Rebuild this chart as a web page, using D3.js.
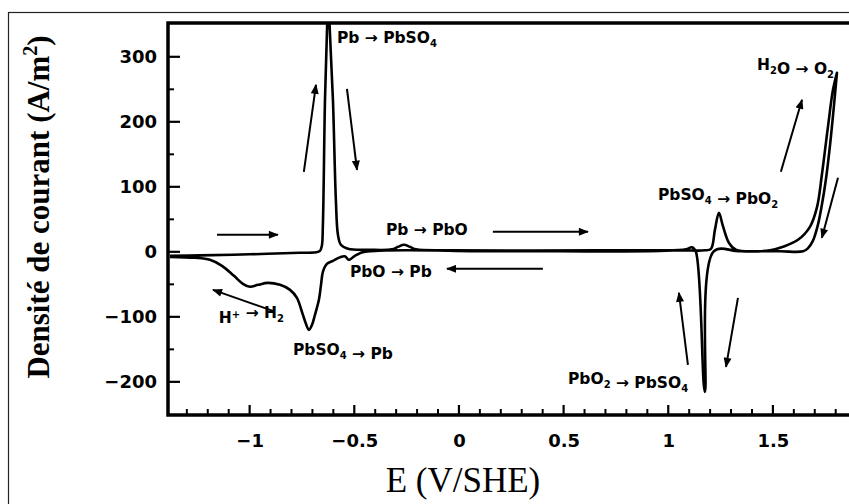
<!DOCTYPE html>
<html>
<head>
<meta charset="utf-8">
<script src="https://cdn.jsdelivr.net/npm/d3@7"></script>
<style>
  body { margin: 0; background: #fff; }
  text { fill: #000; }
</style>
</head>
<body>
<svg id="cv" width="849" height="504"></svg>
<script>
// forward (anodic) scan, E in V/SHE, j in A/m2
var fwdE = [-1.381, -1.237, -0.999, -0.760, -0.683, -0.664, -0.655, -0.650, -0.640, -0.631, -0.624,
            -0.616, -0.602, -0.588, -0.578, -0.564, -0.530, -0.425, -0.320, -0.291, -0.263, -0.234,
            -0.205, -0.043, 0.674, 1.056, 1.175, 1.204, 1.223, 1.242, 1.261, 1.290, 1.323, 1.486,
            1.548, 1.620, 1.677, 1.711, 1.734, 1.763, 1.787, 1.806];
var fwdJ = [-6.2, -5.4, -3.8, -1.5, -0.8, 1.5, 9.2, 41.5, 233.8, 333.8, 390,
            333.8, 233.8, 80, 26, 10.8, 4.6, 3.1, 3.8, 7.7, 10.8, 7.7,
            3.8, 2.3, 2.3, 2.3, 2.3, 4.6, 33.8, 60, 40, 13.8, 3.1, 2.3,
            7.7, 18.5, 38.5, 69.2, 118.5, 192.3, 249.2, 275.4];

// reverse (cathodic) scan
var revE = [1.806, 1.792, 1.773, 1.753, 1.734, 1.715, 1.691, 1.667, 1.644, 1.534, 1.343, 1.218,
            1.175, 1.132, 1.113, 1.085, 0.960, 0.196, -0.449, -0.497, -0.526, -0.545, -0.569,
            -0.602, -0.631, -0.650, -0.659, -0.669, -0.688, -0.702, -0.717, -0.731, -0.750,
            -0.774, -0.807, -0.855, -0.913, -0.960, -0.999, -1.032, -1.075, -1.132, -1.190,
            -1.261, -1.381];
var revJ = [275.4, 226.2, 164.6, 110.8, 72.3, 41.5, 16.9, 5.4, 0.8, 0.8, 0.8, 0.8,
            -215.4, 0, 6.9, 3.8, 1.5, 0.8, 0, -6.2, -12.3, -6.9, -8.5,
            -13.8, -18.5, -30.8, -50.8, -73.8, -96.9, -112.3, -120, -110.8, -92.3,
            -70.8, -58.5, -50.8, -47.7, -50.8, -53.8, -49.2, -36.9, -21.5, -12.3,
            -9.2, -7.7];

var xTicks = [-1, -0.5, 0, 0.5, 1, 1.5];
var yTicks = [-200, -100, 0, 100, 200, 300];
var xMinor = [-1.3, -1.2, -1.1, -0.9, -0.8, -0.7, -0.6, -0.4, -0.3, -0.2, -0.1,
              0.1, 0.2, 0.3, 0.4, 0.6, 0.7, 0.8, 0.9, 1.1, 1.2, 1.3, 1.4, 1.6, 1.7, 1.8];
var yMinor = [-150, -50, 50, 150, 250];

// reaction labels ("_" = subscript, "^" = superscript)
var labelText = ["Pb → PbSO_4", "H_2O → O_2", "PbSO_4 → PbO_2", "Pb → PbO",
                 "PbO → Pb", "H^+ → H_2", "PbSO_4 → Pb", "PbO_2 → PbSO_4"];
var labelE = [-0.583, 1.424, 0.951, -0.349, -0.521, -1.147, -0.793, 0.521];
var labelJ = [321.5, 280, 80, 26.2, -38.5, -109.2, -158.5, -203.1];

// scan direction arrows, tail -> head
var arrE0 = [-1.156, -0.741, -0.535, 0.162, 0.401, -0.889, 1.094, 1.333, 1.538, 1.811];
var arrJ0 = [26.2, 123, 250.8, 30.8, -26.2, -90.8, -173.8, -70.8, 123.1, 113.8];
var arrE1 = [-0.865, -0.683, -0.487, 0.616, -0.057, -1.175, 1.051, 1.276, 1.639, 1.734];
var arrJ1 = [26.2, 256.9, 126.2, 30.8, -26.2, -58.5, -63.1, -176.9, 233.8, 21.5];

var svg = d3.select("#cv");
var pLeft = 168, pTop = 23, pBottom = 415, pRight = 856;

var x = d3.scaleLinear().domain([-1.39, 1.897]).range([pLeft, pRight]);
var y = d3.scaleLinear().domain([-251, 352]).range([pBottom, pTop]);

// outer frame
svg.append("rect")
  .attr("x", 8.5).attr("y", 12.5).attr("width", 900).attr("height", 520)
  .attr("fill", "none").attr("stroke", "#222").attr("stroke-width", 1.2);

svg.append("clipPath").attr("id", "clip")
  .append("rect").attr("x", pLeft).attr("y", pTop).attr("width", pRight - pLeft).attr("height", pBottom - pTop);

var pts = fwdE.map((e, i) => [e, fwdJ[i]]).concat(revE.map((e, i) => [e, revJ[i]]));

var line = d3.line()
  .x(d => x(d[0]))
  .y(d => y(d[1]))
  .curve(d3.curveCatmullRom.alpha(0.5));

svg.append("path")
  .datum(pts)
  .attr("clip-path", "url(#clip)")
  .attr("fill", "none")
  .attr("stroke", "#000")
  .attr("stroke-width", 2.6)
  .attr("stroke-linejoin", "round")
  .attr("d", line);

// plot box
svg.append("path")
  .attr("d", `M${pRight},${pTop}H${pLeft}V${pBottom}H${pRight}`)
  .attr("fill", "none").attr("stroke", "#000").attr("stroke-width", 3.5);

// tick marks, pointing inward
var ticks = svg.append("g").attr("stroke", "#000");
ticks.selectAll(".xmaj").data(xTicks).join("line").attr("class", "xmaj")
  .attr("x1", d => x(d)).attr("x2", d => x(d))
  .attr("y1", pBottom).attr("y2", pBottom - 10).attr("stroke-width", 2.2);
ticks.selectAll(".xmin").data(xMinor).join("line").attr("class", "xmin")
  .attr("x1", d => x(d)).attr("x2", d => x(d))
  .attr("y1", pBottom).attr("y2", pBottom - 6).attr("stroke-width", 2);
ticks.selectAll(".ymaj").data(yTicks).join("line").attr("class", "ymaj")
  .attr("y1", d => y(d)).attr("y2", d => y(d))
  .attr("x1", pLeft).attr("x2", pLeft + 12).attr("stroke-width", 2.2);
ticks.selectAll(".ymin").data(yMinor).join("line").attr("class", "ymin")
  .attr("y1", d => y(d)).attr("y2", d => y(d))
  .attr("x1", pLeft).attr("x2", pLeft + 6).attr("stroke-width", 2);

// tick labels
var tickFont = "'DejaVu Sans', sans-serif";
var fmt = d3.format("");

svg.append("g")
  .attr("transform", `translate(0,${pBottom})`)
  .call(d3.axisBottom(x).tickValues(xTicks).tickSize(0).tickPadding(19).tickFormat(d => fmt(d)))
  .call(g => g.select(".domain").remove())
  .call(g => g.selectAll("line").remove())
  .call(g => g.selectAll("text").attr("font-family", tickFont).attr("font-weight", "bold").attr("font-size", 18));

svg.append("g")
  .attr("transform", `translate(${pLeft},0)`)
  .call(d3.axisLeft(y).tickValues(yTicks).tickSize(0).tickPadding(11).tickFormat(d => fmt(d)))
  .call(g => g.select(".domain").remove())
  .call(g => g.selectAll("line").remove())
  .call(g => g.selectAll("text").attr("font-family", tickFont).attr("font-weight", "bold").attr("font-size", 18));

// arrows
svg.append("defs").append("marker")
  .attr("id", "head")
  .attr("viewBox", "0 0 10 8")
  .attr("refX", 9).attr("refY", 4)
  .attr("markerUnits", "userSpaceOnUse")
  .attr("markerWidth", 11).attr("markerHeight", 8)
  .attr("orient", "auto")
  .append("path").attr("d", "M0,0L10,4L0,8Z").attr("fill", "#000");

svg.append("g").selectAll("line")
  .data(arrE0)
  .join("line")
  .attr("x1", (d, i) => x(arrE0[i]))
  .attr("y1", (d, i) => y(arrJ0[i]))
  .attr("x2", (d, i) => x(arrE1[i]))
  .attr("y2", (d, i) => y(arrJ1[i]))
  .attr("stroke", "#000")
  .attr("stroke-width", 2)
  .attr("marker-end", "url(#head)");

// reaction labels
var labels = svg.append("g")
  .attr("font-family", tickFont)
  .attr("font-weight", "bold")
  .attr("font-size", 15.5);

labelText.forEach((s, i) => {
  var t = labels.append("text").attr("x", x(labelE[i])).attr("y", y(labelJ[i]));
  s.split(/([_^].)/).filter(p => p.length).forEach(p => {
    if (p[0] === "_") {
      t.append("tspan").attr("font-size", 10).attr("dy", 4).text(p[1]);
      t.append("tspan").attr("dy", -4).text("");
    } else if (p[0] === "^") {
      t.append("tspan").attr("font-size", 10).attr("dy", -5).text(p[1]);
      t.append("tspan").attr("dy", 5).text("");
    } else {
      t.append("tspan").text(p);
    }
  });
});

// axis titles
var yTitle = svg.append("text")
  .attr("transform", "translate(49,207) rotate(-90)")
  .attr("text-anchor", "middle")
  .attr("font-family", "'Liberation Serif', 'Times New Roman', serif")
  .attr("font-weight", "bold")
  .attr("font-size", 31);
yTitle.append("tspan").text("Densité de courant (A/m");
yTitle.append("tspan").attr("font-size", 20).attr("dy", -12).text("2");
yTitle.append("tspan").attr("dy", 12).text(")");

svg.append("text")
  .attr("x", 463).attr("y", 492)
  .attr("text-anchor", "middle")
  .attr("font-family", "'Liberation Serif', 'Times New Roman', serif")
  .attr("font-size", 35)
  .text("E (V/SHE)");
</script>
</body>
</html>
